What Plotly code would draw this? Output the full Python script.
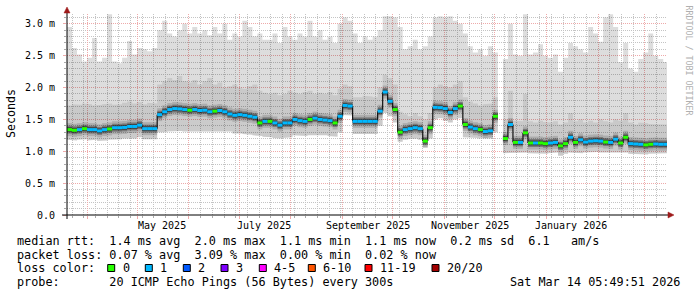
import plotly.graph_objects as go
import pandas as pd

# ---------------- data ----------------
START = "2025-03-20 00:00:00"
END = "2026-03-14 05:49:51"
STEP_DAYS = 3

median_ms = [
    1.34, 1.33, 1.34, 1.355, 1.34, 1.34, 1.32, 1.34, 1.35, 1.37,
    1.37, 1.375, 1.39, 1.39, 1.41, 1.355, 1.355, 1.355, 1.575, 1.62,
    1.655, 1.67, 1.665, 1.655, 1.645, 1.655, 1.64, 1.645, 1.62, 1.63,
    1.64, 1.62, 1.585, 1.565, 1.575, 1.565, 1.55, 1.535, 1.445, 1.47,
    1.47, 1.445, 1.41, 1.445, 1.445, 1.50, 1.48, 1.47, 1.50, 1.52,
    1.50, 1.49, 1.48, 1.445, 1.55, 1.72, 1.71, 1.47, 1.47, 1.47,
    1.47, 1.47, 1.63, 1.93, 1.785, 1.655, 1.30, 1.34, 1.355, 1.37,
    1.355, 1.16, 1.37, 1.69, 1.685, 1.67, 1.61, 1.67, 1.71, 1.42,
    1.38, 1.355, 1.34, 1.31, 1.32, 1.55, None, 1.2, 1.42, 1.14,
    1.14, 1.29, 1.13, 1.13, 1.13, 1.12, 1.13, 1.14, 1.085, 1.12,
    1.22, 1.14, 1.18, 1.145, 1.16, 1.165, 1.16, 1.145, 1.14, 1.19,
    1.13, 1.22, 1.12, 1.115, 1.11, 1.10, 1.11, 1.115, 1.11, 1.11,
]
max_ms = [
    2.95, 2.62, 2.52, 2.41, 2.47, 2.78, 2.41, 2.47, 3.15, 2.41,
    2.38, 2.47, 2.73, 2.52, 2.62, 2.6, 2.57, 2.62, 2.9, 3.05,
    2.85, 2.8, 2.9, 3.0, 2.85, 2.95, 2.85, 2.9, 2.82, 2.95,
    2.85, 3.0, 2.75, 2.85, 2.8, 3.05, 2.95, 2.8, 2.85, 2.75,
    2.75, 2.85, 2.7, 2.95, 2.8, 2.75, 2.85, 2.8, 3.05, 2.8,
    2.9, 2.75, 2.8, 2.7, 3.0, 3.1, 3.05, 2.85, 2.7, 2.8,
    2.75, 2.8, 2.9, 3.12, 3.12, 3.1, 2.95, 2.6, 2.65, 2.75,
    2.6, 2.65, 2.8, 3.1, 3.12, 3.1, 3.12, 3.05, 3.0, 2.85,
    2.65, 2.55, 2.6, 2.5, 2.65, 2.55, None, 2.45, 3.0, 2.52,
    2.5, 3.15, 2.52, 2.55, 2.68, 2.5, 2.47, 2.52, 2.25, 2.47,
    2.7, 2.65, 2.6, 2.55, 2.95, 2.85, 2.72, 3.1, 3.15, 2.95,
    2.4, 2.7, 2.3, 2.25, 2.45, 2.55, 2.85, 2.5, 2.45, 2.4,
]
upper_ms = [
    1.72, 1.74, 1.73, 1.75, 1.74, 1.72, 1.73, 1.74, 1.75, 1.73,
    1.74, 1.76, 1.78, 1.75, 1.77, 1.74, 1.76, 1.75, 2.05, 2.1,
    2.15, 2.12, 2.18, 2.1, 2.08, 2.12, 2.05, 2.1, 2.15, 2.05,
    2.08, 2.0, 2.02, 2.05, 2.0, 1.98, 2.02, 2.05, 1.95, 1.92,
    1.9, 1.92, 1.88, 1.9, 1.95, 1.92, 1.9, 1.93, 1.95, 1.9,
    1.92, 1.9, 1.93, 1.88, 1.98, 2.05, 2.02, 1.85, 1.85, 1.87,
    1.86, 1.85, 2.0, 2.2, 2.15, 2.05, 1.62, 1.58, 1.55, 1.6,
    1.55, 1.5, 1.6, 2.0, 2.05, 2.02, 2.0, 2.05, 2.1, 1.85,
    1.78, 1.75, 1.72, 1.74, 1.75, 1.85, None, 1.5, 1.95, 1.48,
    1.47, 1.9, 1.47, 1.45, 1.48, 1.46, 1.45, 1.47, 1.42, 1.45,
    1.6, 1.47, 1.5, 1.45, 1.48, 1.45, 1.5, 1.47, 1.45, 1.5,
    1.48, 1.6, 1.45, 1.42, 1.45, 1.44, 1.43, 1.42, 1.42, 1.42,
]
min_ms = [
    1.18, 1.17, 1.18, 1.19, 1.17, 1.18, 1.16, 1.17, 1.18, 1.19,
    1.19, 1.2, 1.21, 1.2, 1.22, 1.19, 1.18, 1.19, 1.3, 1.3,
    1.31, 1.31, 1.32, 1.31, 1.31, 1.31, 1.3, 1.31, 1.3, 1.3,
    1.31, 1.3, 1.31, 1.28, 1.28, 1.27, 1.26, 1.25, 1.24, 1.23,
    1.22, 1.21, 1.2, 1.21, 1.22, 1.25, 1.25, 1.24, 1.25, 1.26,
    1.25, 1.25, 1.24, 1.23, 1.3, 1.57, 1.56, 1.27, 1.27, 1.27,
    1.26, 1.27, 1.4, 1.6, 1.55, 1.45, 1.15, 1.18, 1.19, 1.2,
    1.18, 1.06, 1.2, 1.5, 1.52, 1.48, 1.45, 1.5, 1.52, 1.22,
    1.22, 1.21, 1.2, 1.19, 1.2, 1.3, None, 0.97, 0.98, 0.98,
    0.97, 0.98, 0.97, 0.96, 0.97, 0.96, 0.97, 0.98, 0.93, 0.96,
    0.98, 0.97, 0.97, 0.98, 0.98, 0.99, 0.98, 0.98, 0.97, 0.98,
    0.97, 0.98, 0.96, 0.96, 0.96, 0.95, 0.96, 0.96, 0.97, 0.97,
]
loss_code = [
    0, 0, 1, 0, 1, 1, 1, 1, 0, 1,
    1, 1, 1, 1, 1, 1, 1, 1, 1, 1,
    1, 1, 1, 1, 0, 1, 1, 1, 1, 0,
    1, 1, 1, 1, 1, 1, 1, 1, 0, 1,
    0, 1, 1, 1, 1, 1, 1, 1, 0, 1,
    1, 1, 1, 0, 1, 1, 1, 1, 1, 1,
    1, 1, 1, 1, 1, 0, 0, 1, 1, 1,
    1, 0, 0, 1, 1, 1, 1, 1, 0, 0,
    1, 1, 0, 1, 1, 0, 0, 0, 1, 0,
    1, 0, 0, 1, 0, 0, 1, 1, 0, 0,
    1, 0, 1, 1, 1, 1, 1, 0, 1, 1,
    0, 0, 1, 1, 1, 0, 0, 1, 1, 1,
]

LOSS_LABELS = ["0", "1", "2", "3", "4-5", "6-10", "11-19", "20/20"]
LOSS_COLORS = ["#26ff00", "#00b8ff", "#0059ff", "#7e00ff",
               "#ff00ff", "#ff5500", "#ff0000", "#a10000"]

Y_TICKS = [0.0, 0.5, 1.0, 1.5, 2.0, 2.5, 3.0]
Y_TICKTEXT = ["0.0", "0.5 m", "1.0 m", "1.5 m", "2.0 m", "2.5 m", "3.0 m"]
MONTH_LABELS = ["May 2025", "July 2025", "September 2025", "November 2025", "January 2026"]
MONTH_LABEL_AT = ["2025-05-16", "2025-07-16", "2025-09-16", "2025-11-16", "2026-01-16"]

LINE_RTT = "median rtt:  1.4 ms avg  2.0 ms max  1.1 ms min  1.1 ms now  0.2 ms sd  6.1   am/s"
LINE_LOSS = "packet loss: 0.07 % avg  3.09 % max  0.00 % min  0.02 % now"
LINE_COLOR = "loss color:"
LINE_PROBE = "probe:       20 ICMP Echo Pings (56 Bytes) every 300s"
STAMP = "Sat Mar 14 05:49:51 2026"
WATERMARK = "RRDTOOL / TOBI OETIKER"

# ---------------- helpers ----------------
dates = list(pd.date_range(START, periods=len(median_ms), freq=f"{STEP_DAYS}D"))
bounds = dates + [pd.Timestamp(END)]
n = len(median_ms)


def segments(vals):
    out, i = [], 0
    while i < n:
        if vals[i] is None:
            i += 1
            continue
        j = i
        while j < n and vals[j] is not None:
            j += 1
        out.append((i, j))
        i = j
    return out


def band(lo, hi):
    xs, ys = [], []
    for a, b in segments(lo):
        fx, fy, bx, by = [], [], [], []
        for k in range(a, b):
            fx += [bounds[k], bounds[k + 1]]
            fy += [hi[k], hi[k]]
            bx += [bounds[k], bounds[k + 1]]
            by += [lo[k], lo[k]]
        xs += fx + bx[::-1] + [None]
        ys += fy + by[::-1] + [None]
    return xs, ys


def flats(vals, keep=lambda k: True):
    xs, ys = [], []
    for k in range(n):
        if vals[k] is None or not keep(k):
            continue
        xs += [bounds[k], bounds[k + 1], None]
        ys += [vals[k], vals[k], None]
    return xs, ys


def risers(vals):
    xs, ys = [], []
    for k in range(n - 1):
        if vals[k] is None or vals[k + 1] is None or vals[k] == vals[k + 1]:
            continue
        xs += [bounds[k + 1], bounds[k + 1], None]
        ys += [vals[k], vals[k + 1], None]
    return xs, ys


FONT = "DejaVu Sans Mono"
L, R, T, B = 67, 30, 14, 82
W, H = 697, 297
PW, PH = W - L - R, H - T - B


def px(x):
    return (x - L) / PW


def py(y):
    return (T + PH - y) / PH


fig = go.Figure()

# smoke
for lo, hi, col in [(min_ms, max_ms, "rgba(0,0,0,0.135)"),
                    (median_ms, upper_ms, "rgba(0,0,0,0.09)"),
                    (min_ms, median_ms, "rgba(0,0,0,0.08)")]:
    bx, by = band(lo, hi)
    fig.add_trace(go.Scatter(x=bx, y=by, mode="lines", fill="toself",
                             fillcolor=col, line=dict(width=0),
                             hoverinfo="skip", showlegend=False))

# dense smoke core around the median (horizontal only)
fx, fy = flats(median_ms)
for w, c in [(13, "rgba(0,0,0,0.14)"), (8, "rgba(0,0,0,0.3)"), (5, "rgba(0,0,0,0.45)")]:
    fig.add_trace(go.Scatter(x=fx, y=fy, mode="lines", line=dict(width=w, color=c),
                             hoverinfo="skip", showlegend=False))

# thin black connectors between steps
rx, ry = risers(median_ms)
fig.add_trace(go.Scatter(x=rx, y=ry, mode="lines", line=dict(width=1.2, color="#111111"),
                         hoverinfo="skip", showlegend=False))

# median coloured by loss
for code, col in enumerate(LOSS_COLORS):
    xs, ys = flats(median_ms, keep=lambda k, c=code: loss_code[k] == c)
    if xs:
        fig.add_trace(go.Scatter(x=xs, y=ys, mode="lines",
                                 line=dict(width=3, color=col),
                                 hoverinfo="skip", showlegend=False))

month_starts = list(pd.date_range("2025-04-01", "2026-03-01", freq="MS"))
week_lines = [d for d in pd.date_range("2025-03-23", "2026-03-14", freq="7D")]
tenth_lines = [round(0.1 * i, 1) for i in range(1, 32) if i % 5 != 0]

MAJ = "#eeaaaa"
MIN = "#c4c4c4"
fig.update_xaxes(type="date", range=[START, END], tickmode="array",
                 tickvals=month_starts, showticklabels=False,
                 showgrid=True, gridcolor=MAJ, griddash="1px,1px", gridwidth=1,
                 ticks="outside", ticklen=3, tickcolor=MAJ,
                 showline=False, zeroline=False,
                 minor=dict(tickmode="array", tickvals=week_lines, showgrid=True,
                            gridcolor=MIN, griddash="1px,1px", gridwidth=1,
                            ticks="outside", ticklen=2, tickcolor="#aaaaaa"))
fig.update_yaxes(range=[0, 3.155], tickmode="array", tickvals=Y_TICKS,
                 ticktext=Y_TICKTEXT, showgrid=True, gridcolor=MAJ,
                 griddash="1px,1px", ticks="outside", ticklen=3, tickcolor=MAJ,
                 tickfont=dict(family=FONT, size=10, color="#000000"),
                 ticklabelstandoff=6, showline=False, zeroline=False,
                 minor=dict(tickmode="array", tickvals=tenth_lines, showgrid=True,
                            gridcolor=MIN, griddash="1px,1px", gridwidth=1,
                            ticks="outside", ticklen=2, tickcolor="#aaaaaa"))

ann = []
for lab, d in zip(MONTH_LABELS, MONTH_LABEL_AT):
    ann.append(dict(x=d, xref="x", y=py(225), yref="paper", text=lab,
                    showarrow=False, xanchor="center", yanchor="middle",
                    font=dict(family=FONT, size=10, color="#000000")))

ann.append(dict(x=px(11), y=py(114), xref="paper", yref="paper", text="Seconds",
                textangle=-90, showarrow=False, xanchor="center", yanchor="middle",
                font=dict(family=FONT, size=11.6, color="#000000")))
ann.append(dict(x=px(688.5), y=py(60), xref="paper", yref="paper", text=WATERMARK,
                textangle=90, showarrow=False, xanchor="center", yanchor="middle",
                font=dict(family=FONT, size=8.3, color="#b0b0b0")))

LEG = dict(family=FONT, size=11.8, color="#000000")
nb = lambda s: s.replace(" ", "\u00a0")
for text, yy in [(LINE_RTT, 241), (LINE_LOSS, 254.7), (LINE_COLOR, 268.3), (LINE_PROBE, 282)]:
    ann.append(dict(x=px(16), y=py(yy), xref="paper", yref="paper", text=nb(text),
                    showarrow=False, xanchor="left", yanchor="middle", borderpad=0,
                    font=LEG))
ann.append(dict(x=px(681), y=py(282), xref="paper", yref="paper", text=nb(STAMP),
                showarrow=False, xanchor="right", yanchor="middle", borderpad=0,
                font=LEG))

LEGEND_TEXT_X = [121.7, 159.3, 197.3, 235, 273.3, 322.3, 379, 446]
shapes = []
for lab, col, tx in zip(LOSS_LABELS, LOSS_COLORS, LEGEND_TEXT_X):
    ann.append(dict(x=px(tx), y=py(268.3), xref="paper", yref="paper", text=lab,
                    showarrow=False, xanchor="left", yanchor="middle", borderpad=0,
                    font=LEG))
    shapes.append(dict(type="rect", xref="paper", yref="paper",
                       x0=px(tx - 14), x1=px(tx - 7), y0=py(271.5), y1=py(264.5),
                       fillcolor=col, line=dict(color="#000000", width=1)))

# axes with arrows
shapes.append(dict(type="line", xref="paper", yref="paper", x0=px(62), x1=px(669),
                   y0=py(215), y1=py(215), line=dict(color="#000000", width=1)))
shapes.append(dict(type="line", xref="paper", yref="paper", x0=px(67), x1=px(67),
                   y0=py(219), y1=py(12), line=dict(color="#000000", width=1)))
ARROW = "#9e1a1a"
shapes.append(dict(type="path", xref="paper", yref="paper",
                   path=f"M {px(64)} {py(13)} L {px(70)} {py(13)} L {px(67)} {py(7)} Z",
                   fillcolor=ARROW, line=dict(color=ARROW, width=0.5)))
shapes.append(dict(type="path", xref="paper", yref="paper",
                   path=f"M {px(668)} {py(212)} L {px(668)} {py(218)} L {px(674)} {py(215)} Z",
                   fillcolor=ARROW, line=dict(color=ARROW, width=0.5)))

fig.update_layout(width=W, height=H, margin=dict(l=L, r=R, t=T, b=B),
                  paper_bgcolor="#ffffff", plot_bgcolor="#ffffff",
                  showlegend=False, hovermode=False,
                  annotations=ann, shapes=shapes)

fig.write_html("out.html")
